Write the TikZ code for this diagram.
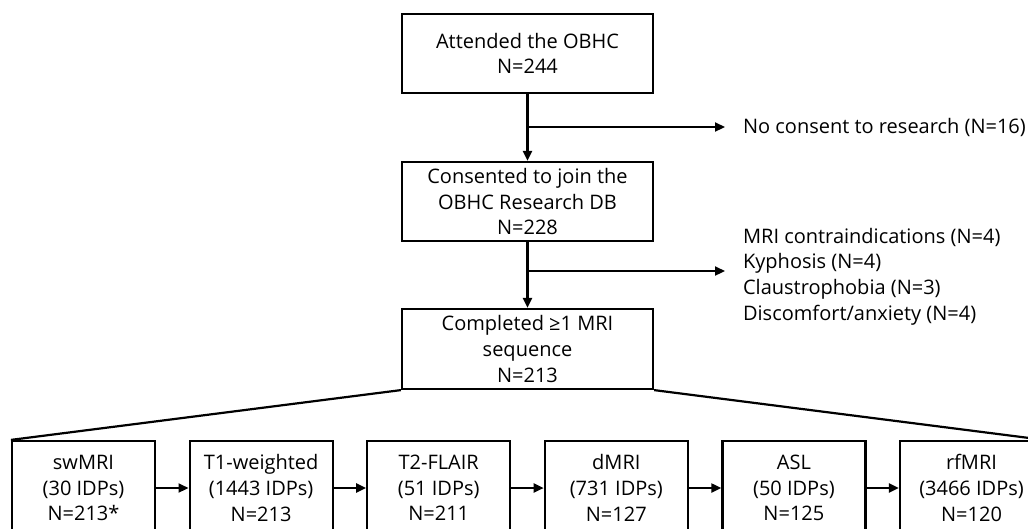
\documentclass[tikz,border=0pt]{standalone}
\usepackage{fontspec}
\setmainfont{Open Sans}
\usetikzlibrary{arrows.meta}

\newcommand{\txtsize}{\fontsize{20}{25.7}\selectfont}
\newcommand{\mainbox}{\node[draw, minimum width=251pt, minimum height=79pt, align=center, inner sep=0pt, font=\txtsize]}
\newcommand{\seqbox}{\node[draw, minimum width=143pt, minimum height=94pt, align=center, inner sep=0pt, font=\txtsize]}
\newcommand{\exclnode}{\node[anchor=west, align=left, inner sep=0pt, font=\txtsize]}

\begin{document}
\begin{tikzpicture}[x=1pt, y=-1pt, line width=2.2pt, >={Triangle[length=10pt, width=9pt]}]
            \useasboundingbox (0,0) rectangle (1028,528);
            \clip (0,0) rectangle (1028,528);

            \mainbox (att) at (527.5,53.5) {Attended the OBHC\\N=244};
            \mainbox (cons) at (527.5,201.5) {Consented to join the\\OBHC Research DB\\N=228};
            \mainbox[minimum height=80pt] (mri) at (527.5,349) {Completed ≥1 MRI\\sequence\\N=213};

            \exclnode (ex1) at (742,127) {No consent to research (N=16)};
            \exclnode (ex2) at (742,276.5) {MRI contraindications (N=4)\\Kyphosis (N=4)\\Claustrophobia (N=3)\\Discomfort/anxiety (N=4)};

            \coordinate (s1) at (att.south |- ex1.west);
            \coordinate (s2) at (527.5,271);

            \seqbox (sw) at (83.5,488) {swMRI\\(30 IDPs)\\N=213*};
            \seqbox (t1) at (261.1,488) {T1-weighted\\(1443 IDPs)\\N=213};
            \seqbox (t2) at (438.7,488) {T2-FLAIR\\(51 IDPs)\\N=211};
            \seqbox (dm) at (616.3,488) {dMRI\\(731 IDPs)\\N=127};
            \seqbox (asl) at (793.9,488) {ASL\\(50 IDPs)\\N=125};
            \seqbox (rf) at (971.5,488) {rfMRI\\(3466 IDPs)\\N=120};

            \draw[->] (att) -- (cons);
            \draw[->] (cons) -- (mri);
            \draw[->, shorten >=17pt] (s1) -- (ex1.west);
            \draw[->, shorten >=17pt] (s2) -- (s2 -| ex2.west);

            \draw
                (mri.south west) -- (sw.north west)
                (mri.south east) -- (rf.north east)
                ;

            \draw[->] (sw) -- (t1);
            \draw[->] (t1) -- (t2);
            \draw[->] (t2) -- (dm);
            \draw[->] (dm) -- (asl);
            \draw[->] (asl) -- (rf);
        \end{tikzpicture}
\end{document}
